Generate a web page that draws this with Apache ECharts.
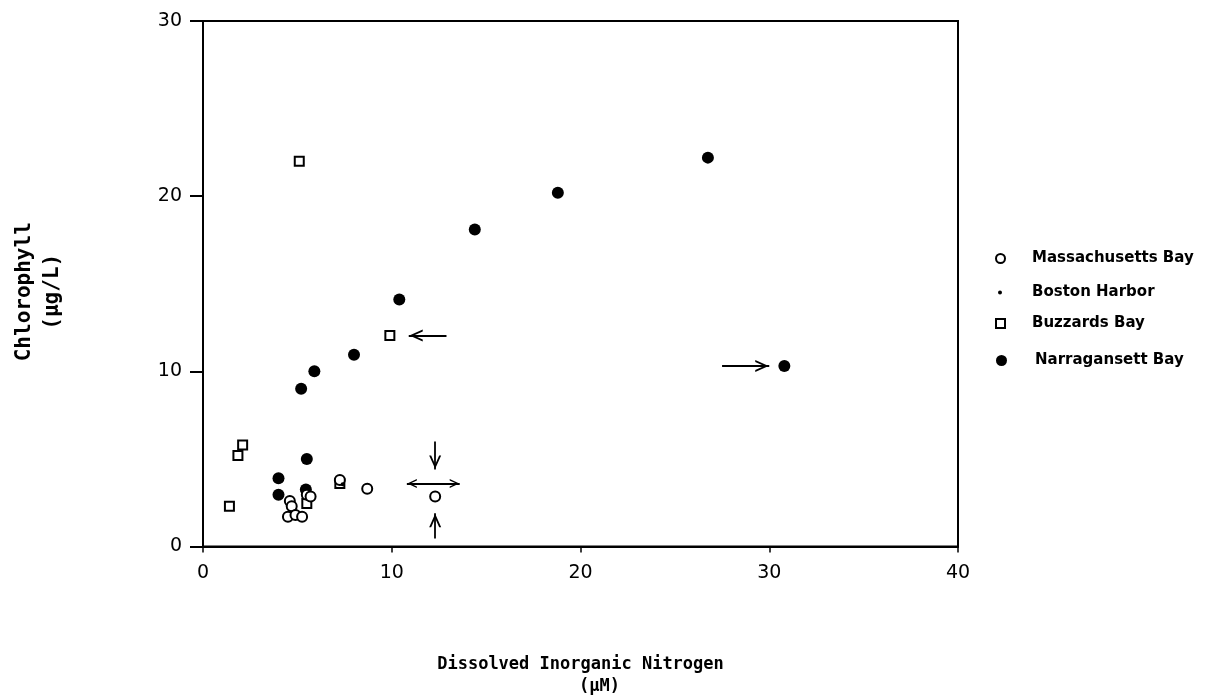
<!DOCTYPE html>
<html><head><meta charset="utf-8">
<script src="https://cdn.jsdelivr.net/npm/echarts@6/dist/echarts.min.js"></script>
<style>html,body{margin:0;padding:0;background:#fff}#c{width:1213px;height:700px}</style>
</head><body><div id="c"></div>
<script>
// ---- data ----
const massachusettsBay = [[4.6,2.6],[4.7,2.3],[4.5,1.7],[4.9,1.8],[5.25,1.7],[5.5,2.95],[5.7,2.85],[7.25,3.8],[8.7,3.3],[12.3,2.85]];
const bostonHarbor = [[7.4,3.55]];
const buzzardsBay = [[5.1,22.0],[9.9,12.05],[2.1,5.8],[1.85,5.2],[1.4,2.3],[5.5,2.45],[7.25,3.6]];
const narragansettBay = [[26.75,22.2],[18.8,20.2],[14.4,18.1],[10.4,14.1],[8.0,10.95],[5.9,10.0],[5.2,9.0],[30.8,10.3],[5.5,5.0],[4.0,3.9],[4.0,2.95],[5.45,3.25]];
const seriesNames = ['Massachusetts Bay','Boston Harbor','Buzzards Bay','Narragansett Bay'];
const xRange = [0, 40, 10];
const yRange = [0, 30, 10];
// annotation arrows in data units: [tail, head]
const singleArrows = [[[12.9,12.05],[10.9,12.05]], [[27.5,10.3],[30.0,10.3]], [[12.3,6.0],[12.3,4.4]], [[12.3,0.45],[12.3,1.9]]];
const doubleArrows = [[[10.8,3.6],[13.6,3.6]]];

const head = 'path://M0,-12 L0,-12 M0,0 L6,11 L4,11 L0,3.6 L-4,11 L-6,11 Z';
const arrowData = [];
singleArrows.forEach(a => arrowData.push([{coord:a[0], symbol:'none'}, {coord:a[1], symbol:head, symbolSize:[12,28]}]));
doubleArrows.forEach(a => arrowData.push([{coord:a[0], symbol:head, symbolSize:[9,20]}, {coord:a[1], symbol:head, symbolSize:[9,20]}]));

const openStyle = {color:'#fff', borderColor:'#000', borderWidth:2, opacity:1};
const fillStyle = {color:'#000', borderWidth:0, opacity:1};
function legendText(gap) {
  return {fontFamily:'DejaVu Sans', fontWeight:'bold', fontSize:15, color:'#000',
          rich:{s:{width:gap}, t:{fontFamily:'DejaVu Sans', fontWeight:'bold', fontSize:15, color:'#000'}}};
}
const fmt = name => '{s|}{t|' + name + '}';
const mono = 'DejaVu Sans Mono';

const chart = echarts.init(document.getElementById('c'));
chart.setOption({
  animation:false,
  backgroundColor:'#fff',
  grid:{left:203, right:255, top:21, bottom:151, show:true, borderColor:'#000', borderWidth:2, backgroundColor:'transparent'},
  xAxis:{type:'value', min:xRange[0], max:xRange[1], interval:xRange[2],
    axisLine:{lineStyle:{color:'#000', width:2}},
    axisTick:{length:6, lineStyle:{color:'#000', width:1.5}},
    splitLine:{show:false},
    axisLabel:{fontFamily:'DejaVu Sans', fontSize:19, color:'#000', margin:17},
    name:'{a|Dissolved Inorganic Nitrogen}\n{b|(µM)}', nameLocation:'middle', nameGap:107,
    nameTextStyle:{rich:{a:{fontFamily:mono, fontWeight:'bold', fontSize:17, lineHeight:22, color:'#000'},
                         b:{fontFamily:mono, fontWeight:'bold', fontSize:17, lineHeight:22, color:'#000', padding:[0,0,0,38]}}}
  },
  yAxis:{type:'value', min:yRange[0], max:yRange[1], interval:yRange[2],
    axisLine:{lineStyle:{color:'#000', width:2}},
    axisTick:{length:13, lineStyle:{color:'#000', width:2}},
    splitLine:{show:false},
    axisLabel:{fontFamily:'DejaVu Sans', fontSize:19, color:'#000', margin:21},
    name:'Chlorophyll\n(µg/L)', nameLocation:'middle', nameRotate:90, nameGap:136,
    nameTextStyle:{fontFamily:mono, fontWeight:'bold', fontSize:21, lineHeight:28, color:'#000', padding:[0,16,0,0]}
  },
  legend:[
    {data:[seriesNames[0]], left:995, top:251, padding:0, itemWidth:9, itemHeight:9, selectedMode:false, itemStyle:openStyle, textStyle:legendText(22), formatter:fmt},
    {data:[seriesNames[1]], left:998, top:285, padding:0, itemWidth:4, itemHeight:4, selectedMode:false, itemStyle:fillStyle, textStyle:legendText(25), formatter:fmt},
    {data:[seriesNames[2]], left:995, top:316, padding:0, itemWidth:9, itemHeight:9, selectedMode:false, itemStyle:openStyle, textStyle:legendText(22), formatter:fmt},
    {data:[seriesNames[3]], left:996, top:353, padding:0, itemWidth:11, itemHeight:11, selectedMode:false, itemStyle:fillStyle, textStyle:legendText(23), formatter:fmt}
  ],
  series:[
    {name:seriesNames[3], type:'scatter', data:narragansettBay, symbol:'circle', symbolSize:12, itemStyle:fillStyle},
    {name:seriesNames[2], type:'scatter', data:buzzardsBay, symbol:'rect', symbolSize:9, itemStyle:openStyle},
    {name:seriesNames[0], type:'scatter', data:massachusettsBay, symbol:'circle', symbolSize:10, itemStyle:openStyle},
    {name:seriesNames[1], type:'scatter', data:bostonHarbor, symbol:'circle', symbolSize:4, itemStyle:fillStyle},
    {name:'annotations', type:'scatter', data:[], silent:true,
      markLine:{silent:true, animation:false, label:{show:false}, emphasis:{disabled:true},
        lineStyle:{color:'#000', width:1.8, type:'solid', opacity:1}, data:arrowData}}
  ]
});
</script></body></html>
